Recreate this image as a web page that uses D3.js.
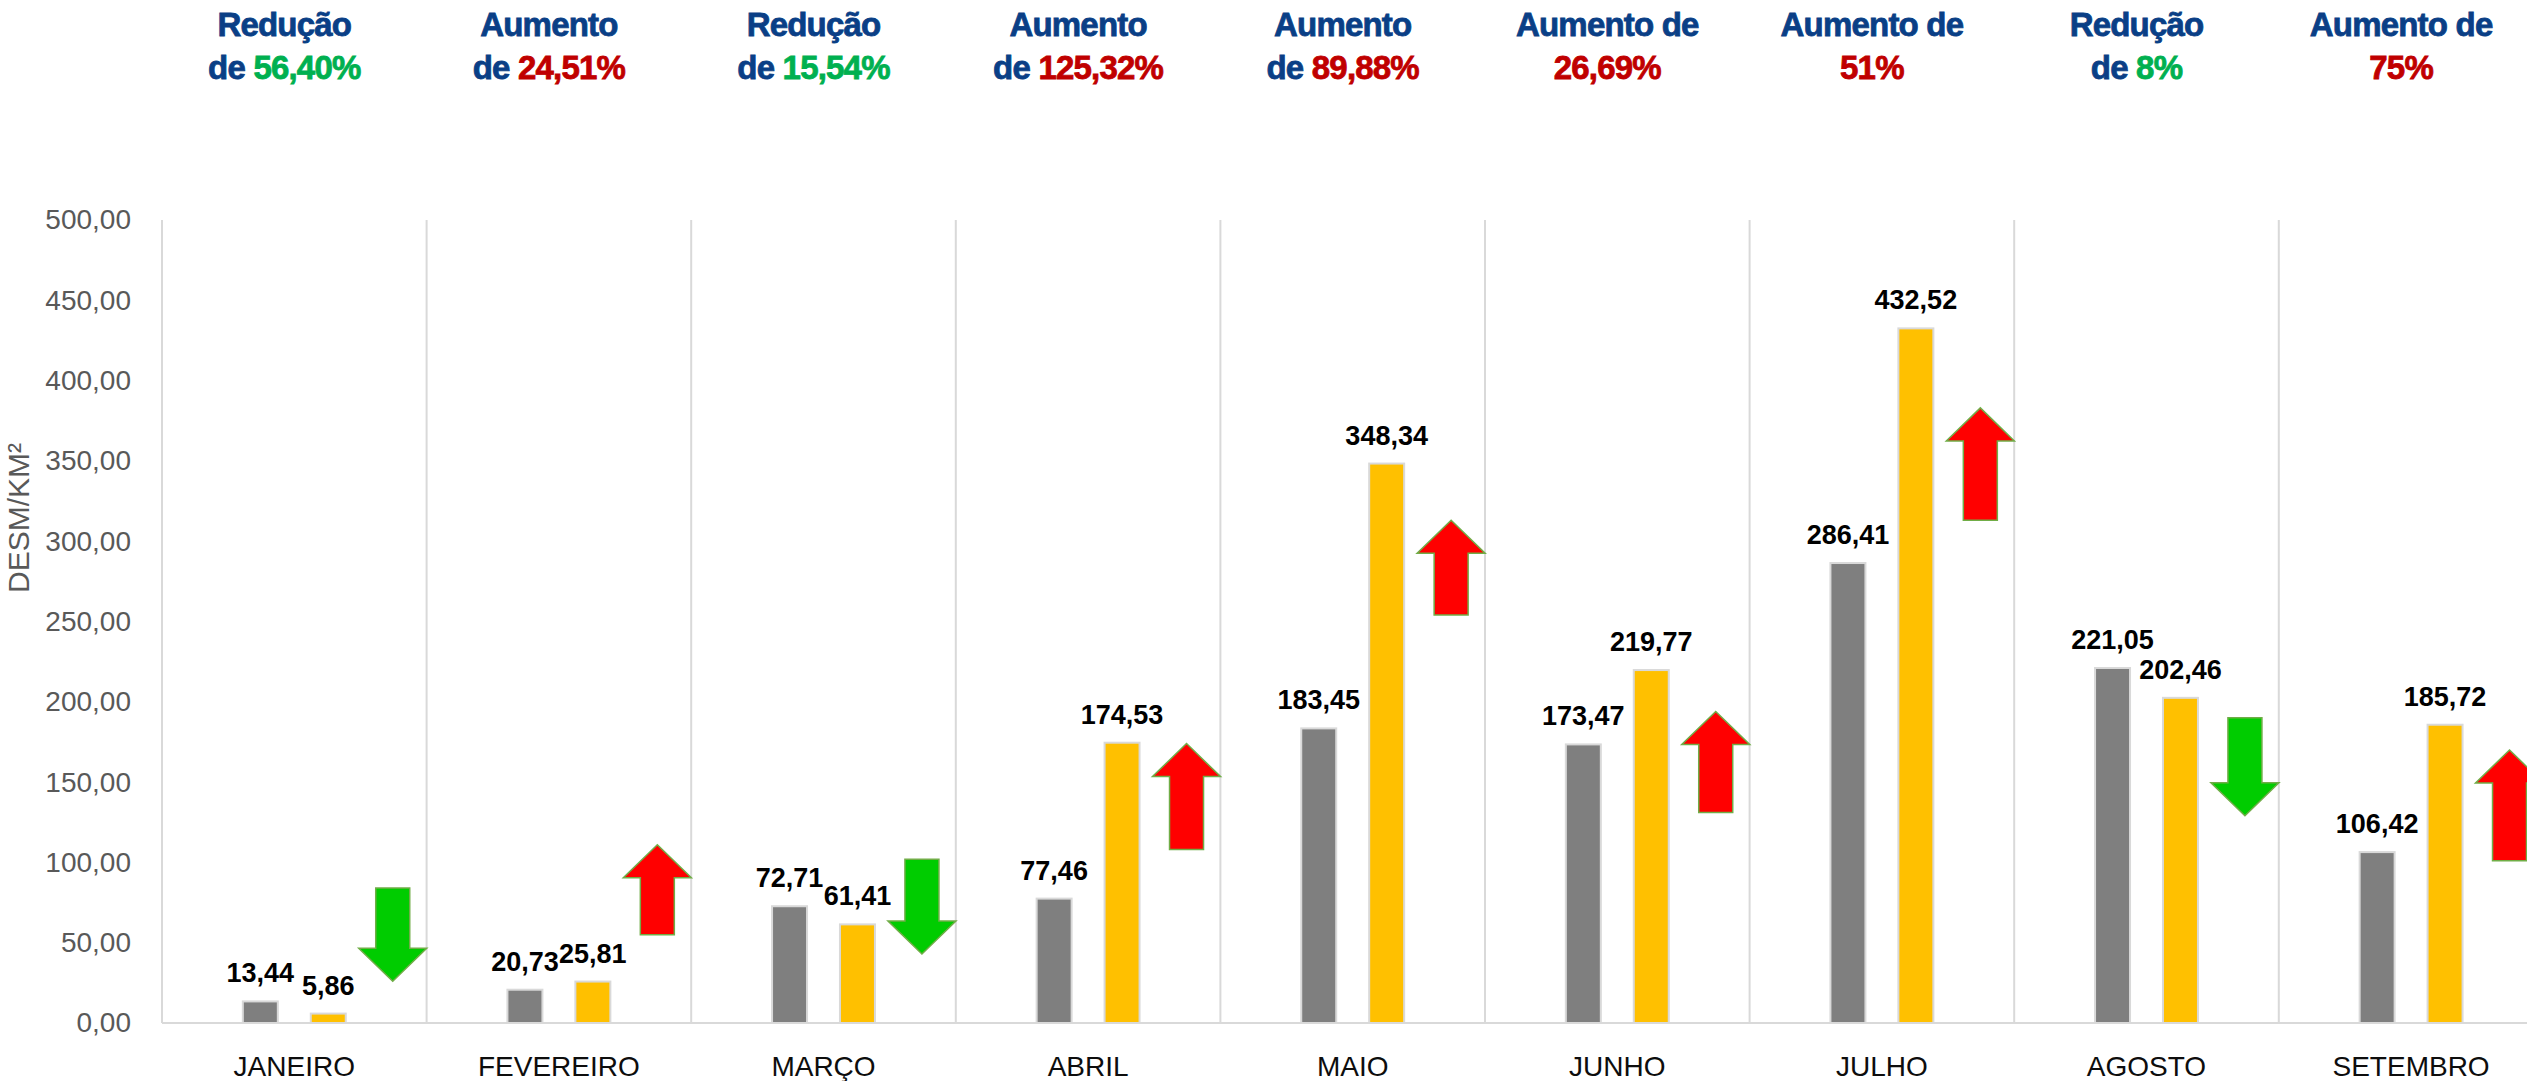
<!DOCTYPE html>
<html>
<head>
<meta charset="utf-8">
<script src="https://cdn.jsdelivr.net/npm/d3@7"></script>
<style>
  body { margin: 0; background: #fff; }
  text { font-family: "Liberation Sans", Arial, sans-serif; }
</style>
</head>
<body>
<script>
// months on the x axis
var months = ["JANEIRO", "FEVEREIRO", "MARÇO", "ABRIL", "MAIO", "JUNHO", "JULHO", "AGOSTO", "SETEMBRO"]
// grey bars (previous period) and yellow bars (current period), km²
var prevValues = [13.44, 20.73, 72.71, 77.46, 183.45, 173.47, 286.41, 221.05, 106.42]
var currValues = [5.86, 25.81, 61.41, 174.53, 348.34, 219.77, 432.52, 202.46, 185.72]
// arrow shapes drawn beside each pair, in axis units (tail and tip)
var arrowTail = [84, 55, 102, 108, 254, 131, 313, 190, 101]
var arrowTip = [26, 111, 43, 174, 313, 194, 383, 129, 170]
// headline texts above the chart
var headLine1 = ["Redução", "Aumento", "Redução", "Aumento", "Aumento", "Aumento de", "Aumento de", "Redução", "Aumento de"]
var headPrefix = ["de ", "de ", "de ", "de ", "de ", "", "", "de ", ""]
var headPct = ["56,40%", "24,51%", "15,54%", "125,32%", "89,88%", "26,69%", "51%", "8%", "75%"]
var yTicks = [0, 50, 100, 150, 200, 250, 300, 350, 400, 450, 500]

var width = 2527
var height = 1081
var plotLeft = 162
var bandW = 264.6

var svg = d3.select("body")
            .append("svg")
            .attr("width", width)
            .attr("height", height)

var x = d3.scaleBand()
          .domain(months)
          .range([plotLeft, plotLeft + months.length * bandW])
          .padding(0)

var sub = d3.scaleBand()
            .domain(["prev", "curr"])
            .range([0, x.bandwidth()])
            .paddingInner(0.485)
            .paddingOuter(1.19)

var y = d3.scaleLinear()
          .domain([0, 500])
          .range([1023, 220])

var fmt = function(v) { return d3.format(".2f")(v).replace(".", ",") }

// vertical category separators
var bounds = months.map(function(m) { return x(m) })
bounds.push(x(months[months.length - 1]) + x.bandwidth())
svg.selectAll("line.sep")
   .data(bounds)
   .enter()
   .append("line")
   .attr("class", "sep")
   .attr("x1", function(d) { return d })
   .attr("x2", function(d) { return d })
   .attr("y1", y(500))
   .attr("y2", y(0))
   .attr("stroke", "#d9d9d9")
   .attr("stroke-width", 2)

svg.append("line")
   .attr("x1", plotLeft)
   .attr("x2", bounds[bounds.length - 1])
   .attr("y1", y(0))
   .attr("y2", y(0))
   .attr("stroke", "#d9d9d9")
   .attr("stroke-width", 2)

// y axis
var yAxis = svg.append("g")
   .attr("transform", "translate(" + plotLeft + ",0)")
   .call(d3.axisLeft(y).tickValues(yTicks).tickFormat(fmt).tickSize(0).tickPadding(31))
yAxis.select(".domain").remove()
yAxis.selectAll("text")
     .attr("font-family", "Liberation Sans, Arial, sans-serif")
     .attr("font-size", 28)
     .attr("fill", "#595959")

svg.append("text")
   .attr("transform", "translate(29," + 518 + ") rotate(-90)")
   .attr("text-anchor", "middle")
   .attr("font-size", 30)
   .attr("fill", "#595959")
   .text("DESM/KM²")

// x labels
svg.selectAll("text.month")
   .data(months)
   .enter()
   .append("text")
   .attr("class", "month")
   .attr("x", function(d) { return x(d) + x.bandwidth() / 2 })
   .attr("y", 1076)
   .attr("text-anchor", "middle")
   .attr("font-size", 28)
   .attr("fill", "#0d0d0d")
   .text(function(d) { return d })

// bars
var rows = months.map(function(m, i) {
  return { month: m, prev: prevValues[i], curr: currValues[i], tail: arrowTail[i], tip: arrowTip[i], i: i }
})
var colors = { prev: "#7f7f7f", curr: "#ffc000" }

var groups = svg.selectAll("g.month")
   .data(rows)
   .enter()
   .append("g")
   .attr("class", "month")
   .attr("transform", function(d) { return "translate(" + x(d.month) + ",0)" })

var bars = groups.selectAll("g.bar")
   .data(function(d) { return ["prev", "curr"].map(function(k) { return { key: k, value: d[k] } }) })
   .enter()
   .append("g")

bars.append("rect")
    .attr("x", function(d) { return sub(d.key) })
    .attr("width", sub.bandwidth())
    .attr("y", function(d) { return y(d.value) })
    .attr("height", function(d) { return y(0) - y(d.value) })
    .attr("fill", function(d) { return colors[d.key] })
    .attr("stroke", "#d9d9d9")
    .attr("stroke-width", 2)

bars.append("text")
    .attr("x", function(d) { return sub(d.key) + sub.bandwidth() / 2 })
    .attr("y", function(d) { return y(d.value) - 19 })
    .attr("text-anchor", "middle")
    .attr("font-size", 27)
    .attr("font-weight", "bold")
    .attr("fill", "#000")
    .text(function(d) { return fmt(d.value) })

// arrows
var headH = 33, halfW = 34, shaftW = 17
groups.append("path")
   .attr("d", function(d) {
     var cx = 0.872 * x.bandwidth()
     var yt = y(d.tip), yb = y(d.tail)
     var dir = yt < yb ? 1 : -1   // 1 = pointing up
     var yh = yt + dir * headH
     return "M" + cx + "," + yt +
            "L" + (cx + halfW) + "," + yh +
            "L" + (cx + shaftW) + "," + yh +
            "L" + (cx + shaftW) + "," + yb +
            "L" + (cx - shaftW) + "," + yb +
            "L" + (cx - shaftW) + "," + yh +
            "L" + (cx - halfW) + "," + yh + "Z"
   })
   .attr("fill", function(d) { return d.curr < d.prev ? "#00cc00" : "#ff0000" })
   .attr("stroke", "#70ad47")
   .attr("stroke-width", 1.5)

// headlines
var navy = "#0a3f86"
var head = svg.selectAll("g.head")
   .data(rows)
   .enter()
   .append("g")
   .attr("class", "head")
   .attr("transform", function(d) { return "translate(" + (x(d.month) + x.bandwidth() / 2 - 10) + ",0)" })

head.append("text")
    .attr("y", 36)
    .attr("text-anchor", "middle")
    .attr("font-size", 33)
    .attr("font-weight", "bold")
    .attr("letter-spacing", -0.8)
    .attr("fill", navy)
    .attr("stroke", navy)
    .attr("stroke-width", 0.8)
    .text(function(d) { return headLine1[d.i] })

var l2 = head.append("text")
    .attr("y", 79)
    .attr("text-anchor", "middle")
    .attr("font-size", 33)
    .attr("font-weight", "bold")
    .attr("letter-spacing", -0.8)
    .attr("stroke-width", 0.8)
l2.append("tspan")
  .attr("fill", navy)
  .attr("stroke", navy)
  .text(function(d) { return headPrefix[d.i] })
l2.append("tspan")
  .attr("fill", function(d) { return d.curr < d.prev ? "#00b050" : "#c00000" })
  .attr("stroke", function(d) { return d.curr < d.prev ? "#00b050" : "#c00000" })
  .text(function(d) { return headPct[d.i] })
</script>
</body>
</html>
